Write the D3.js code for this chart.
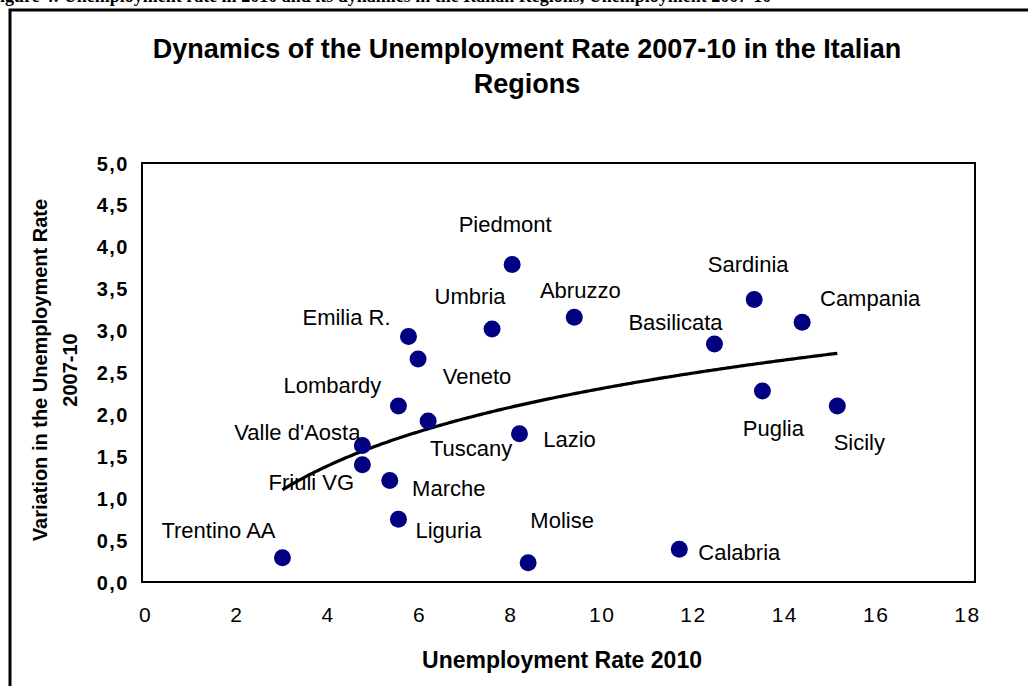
<!DOCTYPE html>
<html lang="en">
<head>
<meta charset="UTF-8">
<title>Unemployment Rate 2007-10</title>
<script src="https://cdn.jsdelivr.net/npm/d3@7/dist/d3.min.js"></script>
<style>
  body { margin: 0; background: #fff; }
  text { font-family: Arial, "Liberation Sans", sans-serif; }
</style>
</head>
<body>
<script>

var width = 1028,
    height = 686

// data
var regions = ["Piedmont", "Valle d'Aosta", "Lombardy", "Trentino AA", "Veneto",
               "Friuli VG", "Liguria", "Emilia R.", "Tuscany", "Umbria",
               "Marche", "Lazio", "Abruzzo", "Molise", "Campania",
               "Puglia", "Basilicata", "Calabria", "Sicily", "Sardinia"]
var unemp2010 = [8.04, 4.76, 5.55, 3.01, 5.98,
                 4.76, 5.55, 5.77, 6.20, 7.60,
                 5.36, 8.20, 9.40, 8.39, 14.39,
                 13.52, 12.47, 11.70, 15.16, 13.34]
var variation = [3.79, 1.63, 2.10, 0.29, 2.66,
                 1.40, 0.75, 2.93, 1.92, 3.02,
                 1.21, 1.77, 3.16, 0.23, 3.10,
                 2.28, 2.84, 0.39, 2.10, 3.37]
var xTicks = [0, 2, 4, 6, 8, 10, 12, 14, 16, 18]
var yTicks = [0, 0.5, 1, 1.5, 2, 2.5, 3, 3.5, 4, 4.5, 5]

// where each data label sits relative to its dot (px), like hand-placed Excel labels
var labelOffset = {
  "Piedmont": [-7, -32], "Valle d'Aosta": [-65, -5], "Lombardy": [-66, -13],
  "Trentino AA": [-64, -20], "Veneto": [59, 25], "Friuli VG": [-51, 25],
  "Liguria": [50, 19], "Emilia R.": [-62, -11], "Tuscany": [43, 35],
  "Umbria": [-22, -25], "Marche": [59, 15], "Lazio": [50, 13],
  "Abruzzo": [6, -19], "Molise": [34, -35], "Campania": [68, -16],
  "Puglia": [11, 45], "Basilicata": [-39, -14], "Calabria": [60, 11],
  "Sicily": [22, 44], "Sardinia": [-6, -28]
}

// plot area frame (Excel draws it a few px wider than the axis span)
var plot = {left: 142, top: 163, right: 975, bottom: 582}

var svg = d3.select("body").append("svg")
    .attr("width", width)
    .attr("height", height)

// cut-off caption from the page above the chart
svg.append("text")
    .attr("x", -11).attr("y", 1.5)
    .style("font-family", "'Liberation Serif', 'Times New Roman', serif")
    .style("font-weight", "bold")
    .style("font-size", "18px")
    .text("Figure 4: Unemployment rate in 2010 and its dynamics in the Italian Regions, Unemployment 2007-10")

// outer chart border
svg.append("rect")
    .attr("x", 10).attr("y", 10)
    .attr("width", 1100).attr("height", 800)
    .attr("fill", "none")
    .attr("stroke", "#000")
    .attr("stroke-width", 3)

var x = d3.scaleLinear().domain([0, 18]).range([145, 967])
var y = d3.scaleLinear().domain([0, 5]).range([plot.bottom, plot.top])

var fmt = function(v) { return d3.format(".1f")(v).replace(".", ",") }

// title
var title = svg.append("text")
    .attr("text-anchor", "middle")
    .style("font-weight", "bold")
    .style("font-size", "27px")
title.append("tspan").attr("x", 527).attr("y", 58)
    .text("Dynamics of the Unemployment Rate 2007-10 in the Italian")
title.append("tspan").attr("x", 527).attr("y", 93)
    .text("Regions")

// plot frame
svg.append("rect")
    .attr("x", plot.left).attr("y", plot.top)
    .attr("width", plot.right - plot.left)
    .attr("height", plot.bottom - plot.top)
    .attr("fill", "none")
    .attr("stroke", "#000")
    .attr("stroke-width", 2)

// x axis (labels only, no line)
var xAxis = svg.append("g")
    .attr("transform", "translate(0," + (plot.bottom + 33) + ")")
    .call(d3.axisBottom(x).tickValues(xTicks).tickSize(0).tickPadding(0))
xAxis.select(".domain").remove()
xAxis.selectAll("text")
    .attr("dy", "0.35em")
    .style("font-family", "Arial, 'Liberation Sans', sans-serif")
    .style("font-size", "21px")
    .style("letter-spacing", "1.5px")
    .attr("fill", "#000")

// y axis
var yAxis = svg.append("g")
    .attr("transform", "translate(" + 129 + ",0)")
    .call(d3.axisLeft(y).tickValues(yTicks).tickFormat(fmt).tickSize(0).tickPadding(0))
yAxis.select(".domain").remove()
yAxis.selectAll("text")
    .attr("dy", "0.35em")
    .style("font-family", "Arial, 'Liberation Sans', sans-serif")
    .style("font-size", "20px")
    .style("font-weight", "bold")
    .style("letter-spacing", "1.5px")
    .attr("fill", "#000")

// axis titles
svg.append("text")
    .attr("x", 562).attr("y", 668)
    .attr("text-anchor", "middle")
    .style("font-weight", "bold")
    .style("font-size", "23px")
    .text("Unemployment Rate 2010")

var yTitle = svg.append("text")
    .attr("transform", "translate(0,370) rotate(-90)")
    .attr("text-anchor", "middle")
    .style("font-weight", "bold")
    .style("font-size", "20px")
yTitle.append("tspan").attr("x", 0).attr("y", 47).text("Variation in the Unemployment Rate")
yTitle.append("tspan").attr("x", 0).attr("y", 77).text("2007-10")

// logarithmic trend line, fitted to the points like Excel does
var lnx = unemp2010.map(function(v) { return Math.log(v) })
var mx = d3.mean(lnx), my = d3.mean(variation)
var sxy = d3.sum(lnx, function(v, i) { return (v - mx) * (variation[i] - my) })
var sxx = d3.sum(lnx, function(v) { return (v - mx) * (v - mx) })
var slope = sxy / sxx, intercept = my - slope * mx

var xs = d3.range(d3.min(unemp2010), d3.max(unemp2010), 0.05).concat([d3.max(unemp2010)])
var line = d3.line()
    .x(function(d) { return x(d) })
    .y(function(d) { return y(slope * Math.log(d) + intercept) })

svg.append("path")
    .datum(xs)
    .attr("d", line)
    .attr("fill", "none")
    .attr("stroke", "#000")
    .attr("stroke-width", 3.2)

// points
var pts = regions.map(function(r, i) {
  return {name: r, ux: unemp2010[i], vy: variation[i]}
})

svg.selectAll("circle.pt").data(pts).enter()
    .append("circle")
    .attr("class", "pt")
    .attr("cx", function(d) { return x(d.ux) })
    .attr("cy", function(d) { return y(d.vy) })
    .attr("r", 8.5)
    .attr("fill", "#000080")

svg.selectAll("text.lbl").data(pts).enter()
    .append("text")
    .attr("class", "lbl")
    .attr("x", function(d) { return x(d.ux) + labelOffset[d.name][0] })
    .attr("y", function(d) { return y(d.vy) + labelOffset[d.name][1] })
    .attr("text-anchor", "middle")
    .style("font-size", "22px")
    .attr("fill", "#000")
    .text(function(d) { return d.name })

</script>
</body>
</html>
